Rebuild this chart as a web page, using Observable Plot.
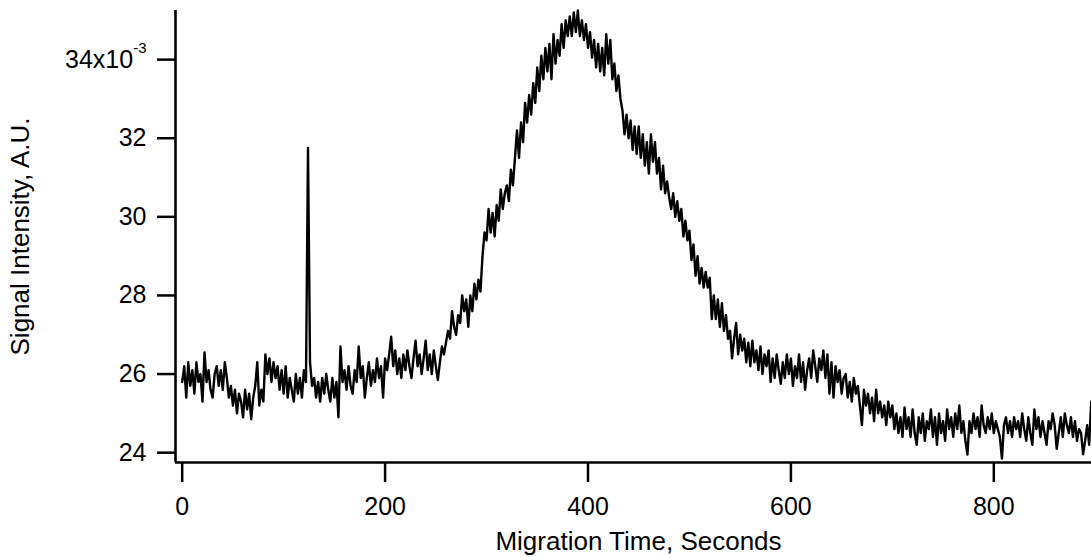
<!DOCTYPE html>
<html><head><meta charset="utf-8">
<script src="https://cdn.jsdelivr.net/npm/d3@7"></script>
<script src="https://cdn.jsdelivr.net/npm/@observablehq/plot@0.6"></script>
<style>html,body{margin:0;padding:0;background:#fff;}</style>
</head><body><div id="chart"></div>
<script>
// sampling interval of the trace, seconds
const step = 2;
// signal intensity (x10^-3 A.U.) sampled every 2 s from t = 0, one row per 20 s
const signal = [
  25.8, 26.2, 25.4, 26.3, 25.7, 26.1, 25.5, 26.3, 25.8, 26.0,   // 0
  25.3, 26.55, 25.8, 26.1, 25.6, 25.4, 26.0, 26.2, 25.7, 26.1,  // 20
  25.6, 26.3, 25.9, 25.4, 25.7, 25.2, 25.6, 25.0, 25.5, 25.3,   // 40
  24.9, 25.6, 25.1, 25.5, 24.85, 25.4, 25.7, 26.3, 25.2, 25.6,  // 60
  25.3, 26.5, 26.0, 26.4, 25.8, 26.3, 25.9, 26.2, 25.6, 26.1,   // 80
  25.5, 26.2, 25.4, 25.9, 25.6, 25.3, 26.0, 25.5, 25.9, 25.4,   // 100
  26.1, 25.8, 31.75, 26.3, 25.7, 25.9, 25.4, 25.8, 25.3, 25.9,  // 120
  25.5, 26.0, 25.6, 25.3, 25.9, 25.4, 25.8, 24.9, 26.7, 25.8,   // 140
  26.1, 25.6, 26.2, 25.7, 25.5, 26.1, 25.8, 26.7, 25.9, 26.2,   // 160
  25.4, 25.9, 26.3, 25.7, 26.1, 25.8, 26.4, 25.9, 26.2, 25.4,   // 180
  26.4, 26.1, 26.5, 26.95, 26.2, 26.6, 26.0, 26.4, 25.9, 26.5,  // 200
  26.1, 26.6, 26.2, 25.9, 26.4, 26.85, 26.2, 26.5, 26.0, 26.4,  // 220
  26.85, 26.1, 26.5, 26.0, 26.6, 26.2, 25.85, 26.3, 26.7, 26.5, // 240
  26.8, 27.1, 26.9, 27.6, 27.2, 27.0, 27.5, 27.3, 28.0, 27.6,   // 260
  27.9, 27.2, 28.0, 27.6, 28.3, 27.9, 28.4, 28.1, 29.0, 29.6,   // 280
  29.4, 30.2, 29.6, 30.1, 29.5, 30.3, 29.9, 30.7, 30.2, 30.6,   // 300
  30.8, 30.4, 31.2, 30.8, 31.5, 32.2, 31.5, 32.4, 31.9, 32.9,   // 320
  32.4, 33.1, 32.6, 33.4, 32.9, 33.8, 33.2, 34.1, 33.5, 34.3,   // 340
  33.7, 34.4, 33.5, 34.65, 33.9, 34.5, 34.1, 34.9, 34.3, 35.0,  // 360
  34.6, 35.1, 34.6, 35.2, 34.7, 35.25, 34.6, 35.0, 34.5, 34.9,  // 380
  34.3, 34.7, 34.05, 34.5, 33.8, 34.4, 33.7, 34.3, 33.6, 34.65, // 400
  33.9, 34.5, 33.5, 33.9, 33.2, 33.6, 33.0, 32.7, 32.1, 32.6,   // 420
  32.0, 32.45, 31.7, 32.3, 31.6, 32.3, 31.5, 32.1, 31.3, 31.9,  // 440
  31.1, 32.1, 31.4, 31.9, 31.1, 31.5, 30.7, 31.3, 30.6, 30.9,   // 460
  30.5, 30.2, 30.6, 30.0, 30.4, 29.9, 30.2, 29.5, 29.9, 29.4,   // 480
  29.65, 28.9, 29.3, 28.5, 29.0, 28.3, 28.7, 28.2, 28.6, 28.2,  // 500
  28.45, 27.4, 28.0, 27.4, 27.9, 27.2, 27.8, 27.1, 27.5, 26.9,  // 520
  27.1, 26.4, 26.9, 27.3, 26.5, 27.0, 26.6, 26.9, 26.3, 26.8,   // 540
  26.2, 26.85, 26.3, 26.6, 26.1, 26.7, 26.0, 26.5, 26.2, 26.6,  // 560
  25.8, 26.4, 25.9, 26.5, 26.1, 25.75, 26.3, 25.9, 26.5, 26.0,  // 580
  26.4, 25.7, 26.2, 25.9, 26.5, 25.8, 26.3, 25.6, 26.1, 26.4,   // 600
  25.9, 26.6, 26.2, 25.8, 26.4, 26.1, 26.6, 25.9, 26.5, 25.5,   // 620
  26.3, 25.4, 26.2, 25.8, 26.1, 25.5, 25.9, 26.0, 25.4, 25.8,   // 640
  25.3, 25.9, 25.5, 25.7, 25.2, 24.7, 25.6, 25.2, 25.5, 25.0,   // 660
  25.4, 24.8, 25.6, 25.0, 25.3, 24.9, 25.2, 24.7, 25.3, 24.9,   // 680
  25.2, 24.6, 25.0, 24.5, 24.9, 24.4, 25.15, 24.6, 24.9, 24.4,  // 700
  25.1, 24.5, 24.2, 24.9, 24.5, 25.0, 24.3, 24.8, 24.6, 25.1,   // 720
  24.4, 24.9, 24.2, 25.0, 24.5, 24.8, 24.3, 25.1, 24.6, 24.9,   // 740
  24.4, 25.0, 24.6, 25.2, 24.5, 24.8, 24.3, 23.95, 24.8, 24.5,  // 760
  25.0, 24.6, 24.9, 24.4, 25.2, 24.7, 24.5, 24.9, 24.6, 25.0,   // 780
  24.5, 24.8, 24.6, 24.4, 23.85, 24.7, 24.9, 24.5, 24.8, 24.4,  // 800
  24.9, 24.6, 24.8, 24.4, 25.0, 24.6, 24.3, 24.9, 24.5, 24.2,   // 820
  25.1, 24.6, 24.9, 24.4, 24.8, 24.5, 24.2, 24.8, 24.6, 25.0,   // 840
  24.7, 24.1, 24.5, 24.9, 24.4, 25.0, 24.7, 24.5, 24.9, 24.4,   // 860
  24.8, 24.3, 24.6, 24.5, 23.96, 24.3, 24.7, 24.2, 25.3, 25.2   // 880
];
const xTicks = [0, 200, 400, 600, 800];
const yTicks = [24, 26, 28, 30, 32, 34];
const xDomain = [-6.6, 896.3];
const yDomain = [23.75, 35.25];
const xTitle = "Migration Time, Seconds";
const yTitle = "Signal Intensity, A.U.";
const topTickValue = 34;
const topTickLabel = "34x10";
const topTickExponent = "-3";

const data = signal.map((v, i) => ({t: i * step, v}));
const font = "'Liberation Sans', Arial, Helvetica, sans-serif";

const chart = Plot.plot({
  width: 1091,
  height: 557,
  marginLeft: 175,
  marginRight: 0,
  marginTop: 10,
  marginBottom: 95,
  style: {fontFamily: font, fontSize: "25px", color: "#000", background: "#fff", overflow: "visible"},
  x: {domain: xDomain},
  y: {domain: yDomain},
  marks: [
    Plot.axisX({ticks: xTicks, tickSize: 20, tickPadding: 15, strokeWidth: 2.5, label: null, tickFormat: d => String(d)}),
    Plot.axisY({ticks: yTicks, tickSize: 18, tickPadding: 11, strokeWidth: 2.5, label: null,
      tickFormat: d => d === topTickValue ? topTickLabel : String(d)}),
    Plot.ruleY([yDomain[0]], {stroke: "#000", strokeWidth: 2.6}),
    Plot.ruleX([xDomain[0]], {stroke: "#000", strokeWidth: 2.6}),
    Plot.line(data, {x: "t", y: "v", stroke: "#000", strokeWidth: 2.4}),
    Plot.text([xTitle], {text: d => d, frameAnchor: "bottom", textAnchor: "middle", lineAnchor: "middle", dx: 5, dy: 79, fontSize: 26}),
    Plot.text([yTitle], {text: d => d, frameAnchor: "left", textAnchor: "middle", lineAnchor: "middle", rotate: -90, dx: -155, fontSize: 26})
  ]
});
document.getElementById("chart").appendChild(chart);

// superscript exponent on the top y tick label
d3.select(chart).selectAll("text")
  .filter(function () { return this.textContent === topTickLabel; })
  .append("tspan")
  .attr("dy", -15)
  .attr("font-size", 15)
  .text(topTickExponent);
</script>
</body></html>
